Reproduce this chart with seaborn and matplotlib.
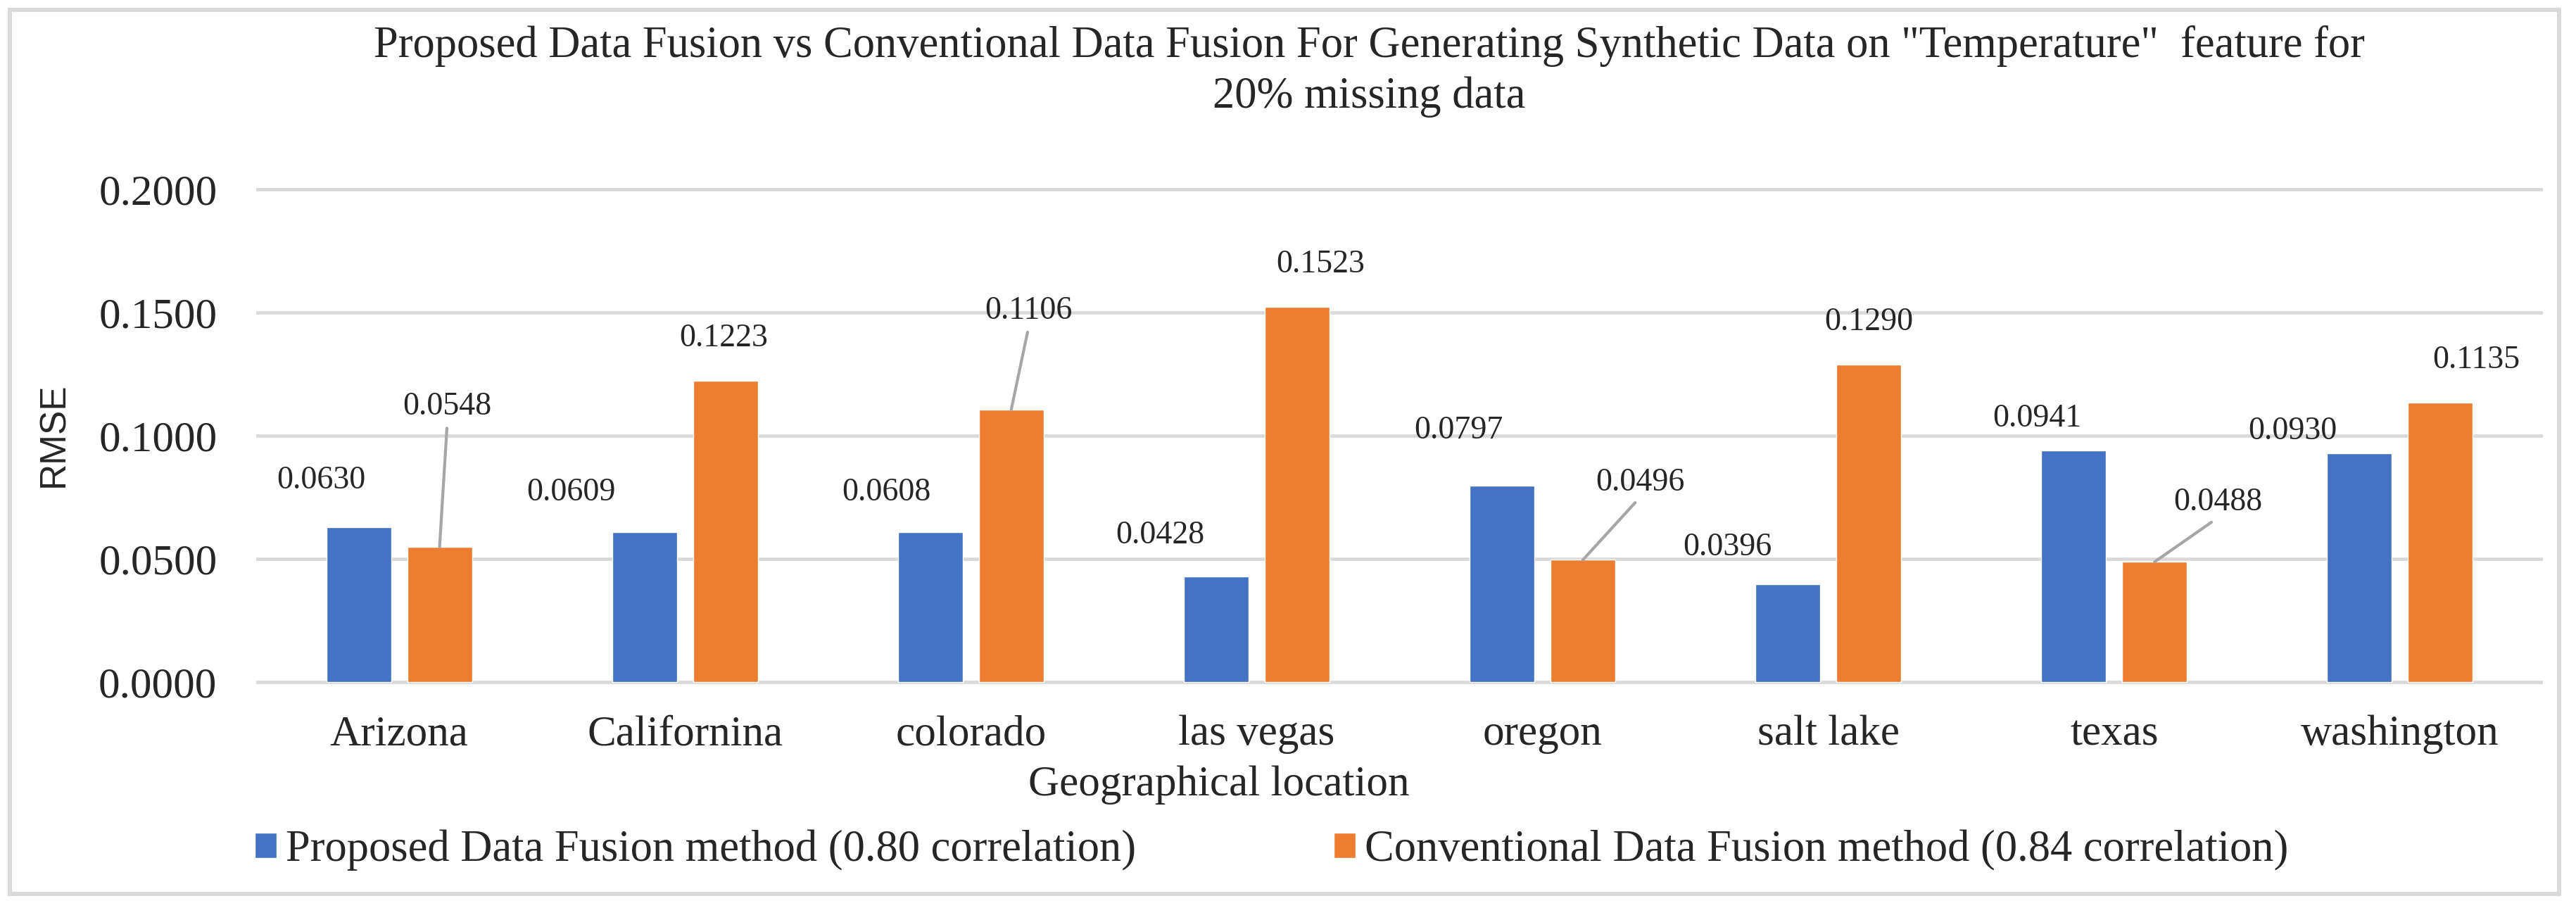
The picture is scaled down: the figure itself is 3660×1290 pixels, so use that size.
import seaborn as sns
import matplotlib.pyplot as plt
import pandas as pd
from matplotlib.patches import Rectangle
from matplotlib.ticker import FormatStrFormatter

locations = ["Arizona", "Californina", "colorado", "las vegas",
             "oregon", "salt lake", "texas", "washington"]
proposed = [0.0630, 0.0609, 0.0608, 0.0428, 0.0797, 0.0396, 0.0941, 0.0930]
conventional = [0.0548, 0.1223, 0.1106, 0.1523, 0.0496, 0.1290, 0.0488, 0.1135]
methods = ["Proposed Data Fusion method (0.80 correlation)",
           "Conventional Data Fusion method (0.84 correlation)"]
y_ticks = [0.0, 0.05, 0.10, 0.15, 0.20]

# where the value labels sit, in pixels from the top of each bar
label_offsets = {
    methods[0]: [(-53, 66), (-104, 56), (-62, 56), (-80, 58),
                 (-62, 78), (-86, 53), (-52, 45), (-95, 31)],
    methods[1]: [(11, 199), (-2, 60), (25, 140), (33, 60),
                 (81, 110), (0, 60), (90, 84), (51, 60)],
}
leader = {methods[1]: [True, False, True, False, True, False, True, False]}

df = pd.DataFrame({
    "location": locations * 2,
    "rmse": proposed + conventional,
    "method": [methods[0]] * len(locations) + [methods[1]] * len(locations),
})

sns.set_theme(style="white")
plt.rcParams["font.family"] = ["Liberation Serif", "DejaVu Serif"]

W, H = 3660, 1290
fig = plt.figure(figsize=(W / 100, H / 100), dpi=100)
# plot area: y=0 at 969px, y=0.2 at 269px, x from 364 to 3613
pad = 0.001
top_px, bot_px = 269 - pad * 3500, 969 + pad * 3500
ax = fig.add_axes([364 / W, (H - bot_px) / H, (3613 - 364) / W, (bot_px - top_px) / H])

sns.barplot(data=df, x="location", y="rmse", hue="method",
            palette=["#4472C4", "#ED7D31"], width=0.566, gap=0.2,
            saturation=1, ax=ax, legend=True)

ax.set_ylim(-pad, 0.2 + pad)
ax.set_yticks(y_ticks)
ax.yaxis.set_major_formatter(FormatStrFormatter("%.4f"))
ax.grid(axis="y", color="#D9D9D9", lw=3.4)
ax.grid(axis="x", visible=False)
ax.set_axisbelow(True)
for s in ax.spines.values():
    s.set_visible(False)
ax.tick_params(axis="y", labelsize=44, length=0, pad=40)
ax.tick_params(axis="x", labelsize=44, length=0, pad=31)

ax.set_xlabel("Geographical location", fontsize=44, va="center")
ax.xaxis.set_label_coords((1732 - 364) / 3249, -(1110 - 969) / 700)
ax.set_ylabel("RMSE", fontsize=37, family="Liberation Sans", va="center")
ax.yaxis.set_label_coords((77 - 364) / 3249, (969 - 618) / 700)

ax.set_title('Proposed Data Fusion vs Conventional Data Fusion For Generating Synthetic Data on "Temperature"  feature for\n20% missing data',
             fontsize=45, x=(1945 - 364) / 3249, y=(969 - 115) / 700, va="center", linespacing=1.3)

# value labels
for cont, m in zip(ax.containers, methods):
    for i, bar in enumerate(cont):
        x = bar.get_x() + bar.get_width() / 2
        h = bar.get_height()
        dx, dy = label_offsets[m][i]
        arrow = None
        if leader.get(m, [False] * 8)[i]:
            arrow = dict(arrowstyle="-", color="#A6A6A6", lw=3, relpos=(0.5, 0),
                         shrinkA=4, shrinkB=0)
        ax.annotate(f"{h:.4f}", xy=(x, h), xytext=(dx, dy), textcoords="offset pixels",
                    ha="center", va="center", fontsize=33, arrowprops=arrow)

sns.move_legend(ax, "center left", bbox_to_anchor=(362 / W, (H - 1208) / H),
                bbox_transform=fig.transFigure, ncol=2, frameon=False, title=None,
                fontsize=45, handlelength=0.5, handleheight=0.5, handletextpad=0.2,
                columnspacing=4.5, borderpad=0, borderaxespad=0)

fig.patches.append(Rectangle((13.5 / W, (H - 1270) / H), (3636 - 13.5) / W, (1270 - 14) / H,
                             transform=fig.transFigure, fill=False, edgecolor="#D9D9D9",
                             lw=4.3, zorder=-1))

fig.savefig("out.png", dpi=100, facecolor="white")
